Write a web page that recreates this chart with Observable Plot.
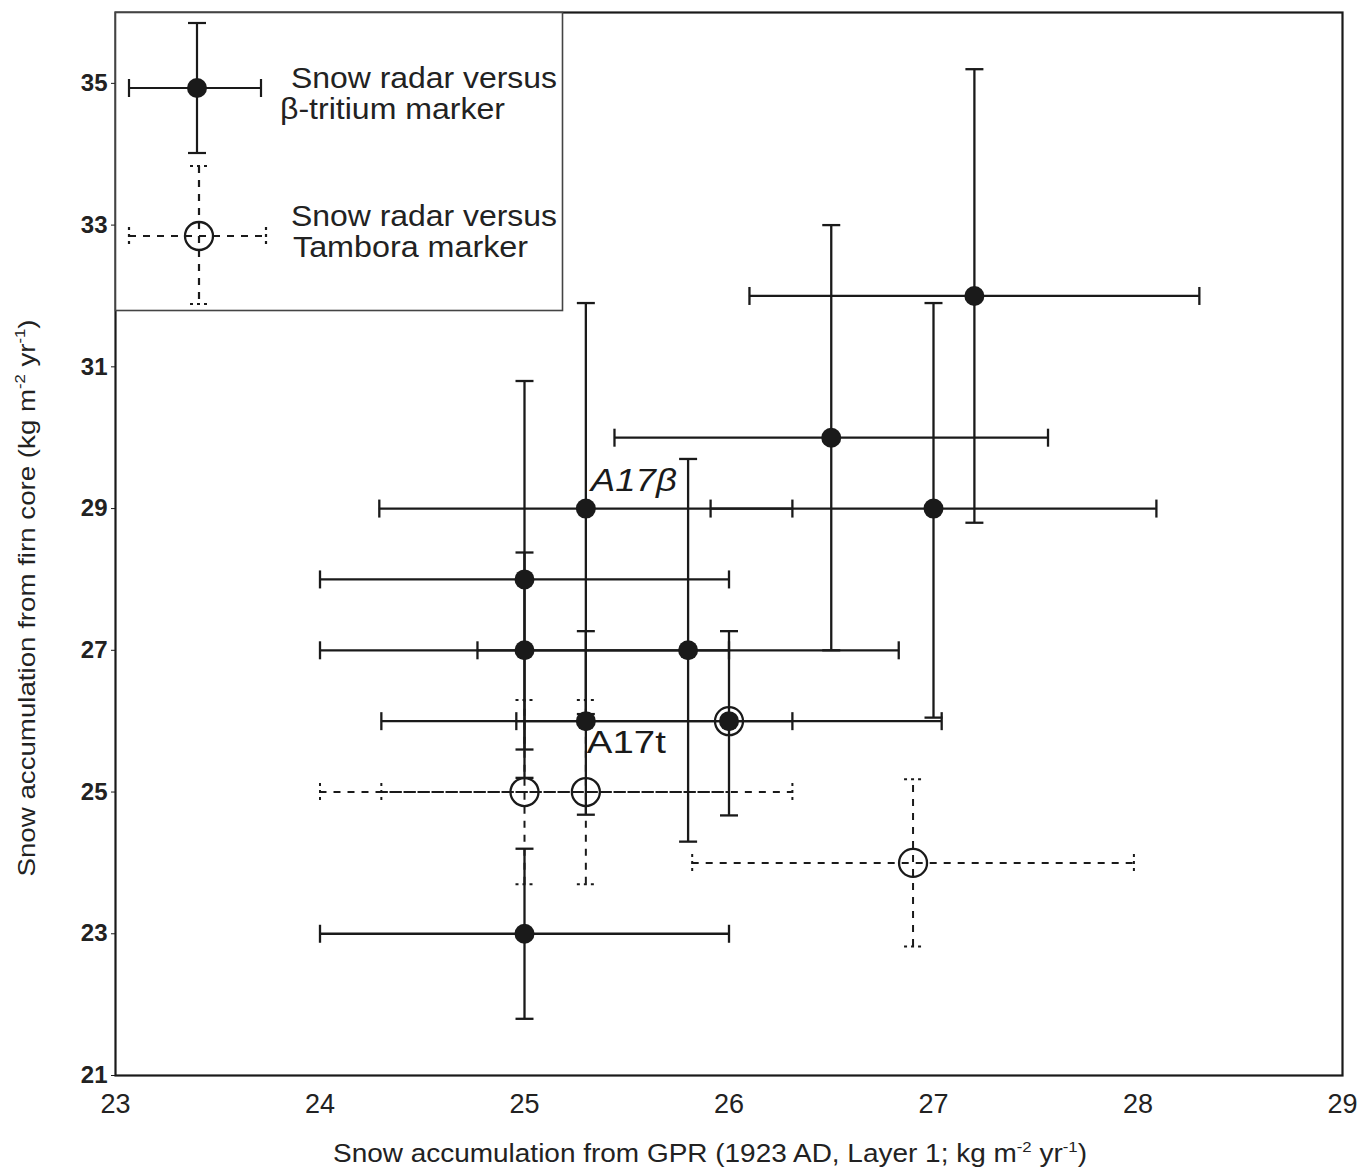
<!DOCTYPE html>
<html><head><meta charset="utf-8">
<script src="https://cdn.jsdelivr.net/npm/d3@7"></script>
<script src="https://cdn.jsdelivr.net/npm/@observablehq/plot@0.6"></script>
<style>
body{margin:0;background:#fff;}
#chart svg{display:block;}
</style>
</head><body><div id="chart"></div>
<script>
// ---- data ----
const xTicks = [23, 24, 25, 26, 27, 28, 29];
const yTicks = [21, 23, 25, 27, 29, 31, 33, 35];

// Snow radar versus beta-tritium marker (filled dots)
const betaX   = [27.2, 26.5, 27.0, 25.3, 25.0, 25.0, 25.8, 25.3, 26.0, 25.0];
const betaY   = [32,   30,   29,   29,   28,   27,   27,   26,   26,   23];
const betaXLo = [26.1, 25.44, 25.91, 24.29, 24.0, 24.0, 24.77, 24.3, 24.96, 24.0];
const betaXHi = [28.3, 27.56, 28.09, 26.31, 26.0, 26.0, 26.83, 26.31, 27.04, 26.0];
const betaYLo = [28.8, 27.0, 26.05, 26.1, 25.2, 25.6, 24.3, 24.68, 24.67, 21.8];
const betaYHi = [35.2, 33.0, 31.9, 31.9, 30.8, 28.38, 29.7, 27.27, 27.27, 24.2];

// Snow radar versus Tambora marker (open circles)
const tamX   = [25.0, 25.3, 26.9, 26.0];
const tamY   = [25,   25,   24,   26];
const tamXLo = [24.0, 24.3, 25.82, null];
const tamXHi = [26.0, 26.31, 27.98, null];
const tamYLo = [23.7, 23.7, 22.82, null];
const tamYHi = [26.3, 26.3, 25.18, null];

const labelText = ["A17β", "A17t"];
const labelX = [25.3, 25.3];
const labelY = [29, 26];

const xTitle = ["Snow accumulation from GPR (1923 AD, Layer 1; kg m", "-2", " yr", "-1", ")"];
const yTitle = ["Snow accumulation from firn core (kg m", "-2", " yr", "-1", ")"];
const legendLines = [["Snow radar versus", "β-tritium marker"], ["Snow radar versus", "Tambora marker"]];

// ---- tables ----
const beta = betaX.map((x, i) => ({x, y: betaY[i], xlo: betaXLo[i], xhi: betaXHi[i], ylo: betaYLo[i], yhi: betaYHi[i]}));
const tam = tamX.map((x, i) => ({x, y: tamY[i], xlo: tamXLo[i], xhi: tamXHi[i], ylo: tamYLo[i], yhi: tamYHi[i]}));
const tamBars = tam.filter(d => d.xlo != null);
const labels = labelText.map((t, i) => ({text: t, x: labelX[i], y: labelY[i]}));

const ink = "#1a1a1a";
const sw = 2.3;
const dash = "7,7";
const vcap = {draw(ctx, size) { const h = Math.sqrt(size / Math.PI); ctx.moveTo(0, -h); ctx.lineTo(0, h); }};
const hcap = {draw(ctx, size) { const h = Math.sqrt(size / Math.PI); ctx.moveTo(-h, 0); ctx.lineTo(h, 0); }};
const capR = 9;

const chart = Plot.plot({
  width: 1370,
  height: 1172,
  marginTop: 12,
  marginLeft: 115,
  marginRight: 28,
  marginBottom: 97,
  style: {fontFamily: "'Liberation Sans', Arial, sans-serif", fontSize: "24px", color: ink, background: "#fff"},
  x: {domain: [23, 29], ticks: xTicks, tickFormat: d => String(d), tickSize: 0, tickPadding: 18, label: null},
  y: {domain: [21, 36], ticks: yTicks, tickFormat: d => String(d), tickSize: 4, tickPadding: 4, label: null},
  marks: [
    Plot.frame({stroke: ink, strokeWidth: 2.2}),
    // Tambora dashed error bars
    Plot.ruleY(tamBars, {y: "y", x1: "xlo", x2: "xhi", stroke: ink, strokeWidth: 2, strokeDasharray: dash}),
    Plot.ruleX(tamBars, {x: "x", y1: "ylo", y2: "yhi", stroke: ink, strokeWidth: 2, strokeDasharray: dash}),
    Plot.dot(tamBars, {x: "xlo", y: "y", symbol: vcap, r: capR, stroke: ink, strokeWidth: 2, strokeDasharray: "3,4", fill: "none"}),
    Plot.dot(tamBars, {x: "xhi", y: "y", symbol: vcap, r: capR, stroke: ink, strokeWidth: 2, strokeDasharray: "3,4", fill: "none"}),
    Plot.dot(tamBars, {x: "x", y: "ylo", symbol: hcap, r: capR, stroke: ink, strokeWidth: 2, strokeDasharray: "3,4", fill: "none"}),
    Plot.dot(tamBars, {x: "x", y: "yhi", symbol: hcap, r: capR, stroke: ink, strokeWidth: 2, strokeDasharray: "3,4", fill: "none"}),
    // beta-tritium solid error bars
    Plot.ruleY(beta, {y: "y", x1: "xlo", x2: "xhi", stroke: ink, strokeWidth: sw}),
    Plot.ruleX(beta, {x: "x", y1: "ylo", y2: "yhi", stroke: ink, strokeWidth: sw}),
    Plot.dot(beta, {x: "xlo", y: "y", symbol: vcap, r: capR, stroke: ink, strokeWidth: sw, fill: "none"}),
    Plot.dot(beta, {x: "xhi", y: "y", symbol: vcap, r: capR, stroke: ink, strokeWidth: sw, fill: "none"}),
    Plot.dot(beta, {x: "x", y: "ylo", symbol: hcap, r: capR, stroke: ink, strokeWidth: sw, fill: "none"}),
    Plot.dot(beta, {x: "x", y: "yhi", symbol: hcap, r: capR, stroke: ink, strokeWidth: sw, fill: "none"}),
    // markers
    Plot.dot(tam, {x: "x", y: "y", r: 14, stroke: ink, strokeWidth: 2.3, fill: "none"}),
    Plot.dot(beta, {x: "x", y: "y", r: 10, fill: ink, stroke: "none"}),
    // annotations
    Plot.text(labels.filter(d => d.text === "A17β"), {x: "x", y: "y", text: "text", textAnchor: "start", lineAnchor: "middle", dx: 5, dy: -27, fontSize: 31, fontStyle: "italic", fill: ink}),
    Plot.text(labels.filter(d => d.text === "A17t"), {x: "x", y: "y", text: "text", textAnchor: "start", lineAnchor: "middle", dx: 1, dy: 22, fontSize: 31, fill: ink})
  ]
});

document.getElementById("chart").appendChild(chart);
const svg = d3.select(chart);
const font = "'Liberation Sans', Arial, sans-serif";

// tick label styling
svg.selectAll('g[aria-label="x-axis tick label"]').attr("font-size", 27).attr("fill", "#222");
svg.selectAll('g[aria-label="x-axis tick label"] text').style("font-size", "27px");
svg.selectAll('g[aria-label="y-axis tick label"]').attr("font-size", 24).attr("font-weight", "bold").attr("fill", "#222");
svg.selectAll('g[aria-label="y-axis tick label"] text').style("font-size", "24px");

// stretch annotation labels to the reference widths
svg.selectAll("text").filter(function() { return this.textContent === "A17β"; })
  .attr("textLength", 86).attr("lengthAdjust", "spacingAndGlyphs");
svg.selectAll("text").filter(function() { return this.textContent === "A17t"; })
  .attr("textLength", 79).attr("lengthAdjust", "spacingAndGlyphs");

// axis titles with superscripts
function title(parts, transform, len, size) {
  const t = svg.append("text").attr("transform", transform)
    .attr("text-anchor", "middle").attr("font-family", font).attr("font-size", size)
    .attr("fill", "#222").attr("textLength", len).attr("lengthAdjust", "spacingAndGlyphs");
  parts.forEach((p, i) => {
    const ts = t.append("tspan").text(p);
    if (i % 2 === 1) ts.attr("font-size", size * 0.6).attr("dy", -size * 0.4);
    else if (i > 0) ts.attr("dy", size * 0.4);
  });
}
title(xTitle, "translate(710,1162)", 754, 25);
title(yTitle, "translate(35,598) rotate(-90)", 557, 24);

// legend (drawn in pixel space over the top-left of the panel)
const lg = svg.append("g");
lg.append("rect").attr("x", 115.5).attr("y", 12.5).attr("width", 447).attr("height", 298)
  .attr("fill", "#fff").attr("stroke", "#444").attr("stroke-width", 1.6);
function line(g, x1, y1, x2, y2, da) {
  g.append("line").attr("x1", x1).attr("y1", y1).attr("x2", x2).attr("y2", y2)
    .attr("stroke", ink).attr("stroke-width", 2.2).attr("stroke-dasharray", da || null);
}
function sample(cx, cy, x1, x2, y1, y2, da, cda) {
  line(lg, x1, cy, x2, cy, da);
  line(lg, cx, y1, cx, y2, da);
  line(lg, x1, cy - capR, x1, cy + capR, cda);
  line(lg, x2, cy - capR, x2, cy + capR, cda);
  line(lg, cx - capR, y1, cx + capR, y1, cda);
  line(lg, cx - capR, y2, cx + capR, y2, cda);
}
sample(197, 88, 129, 261, 23, 153, null, null);
lg.append("circle").attr("cx", 197).attr("cy", 88).attr("r", 10).attr("fill", ink);
sample(199, 236, 129, 266, 166, 304, dash, "3,4");
lg.append("circle").attr("cx", 199).attr("cy", 236).attr("r", 14).attr("fill", "none").attr("stroke", ink).attr("stroke-width", 2.3);

const lgText = [
  {s: legendLines[0][0], x: 291, y: 88, w: 266},
  {s: legendLines[0][1], x: 280, y: 119, w: 225},
  {s: legendLines[1][0], x: 291, y: 226, w: 266},
  {s: legendLines[1][1], x: 293, y: 257, w: 235}
];
lgText.forEach(d => {
  lg.append("text").attr("x", d.x).attr("y", d.y).attr("text-anchor", "start").attr("font-family", font).attr("font-size", 29)
    .attr("fill", "#222").attr("textLength", d.w).attr("lengthAdjust", "spacingAndGlyphs").text(d.s);
});
</script>
</body></html>
